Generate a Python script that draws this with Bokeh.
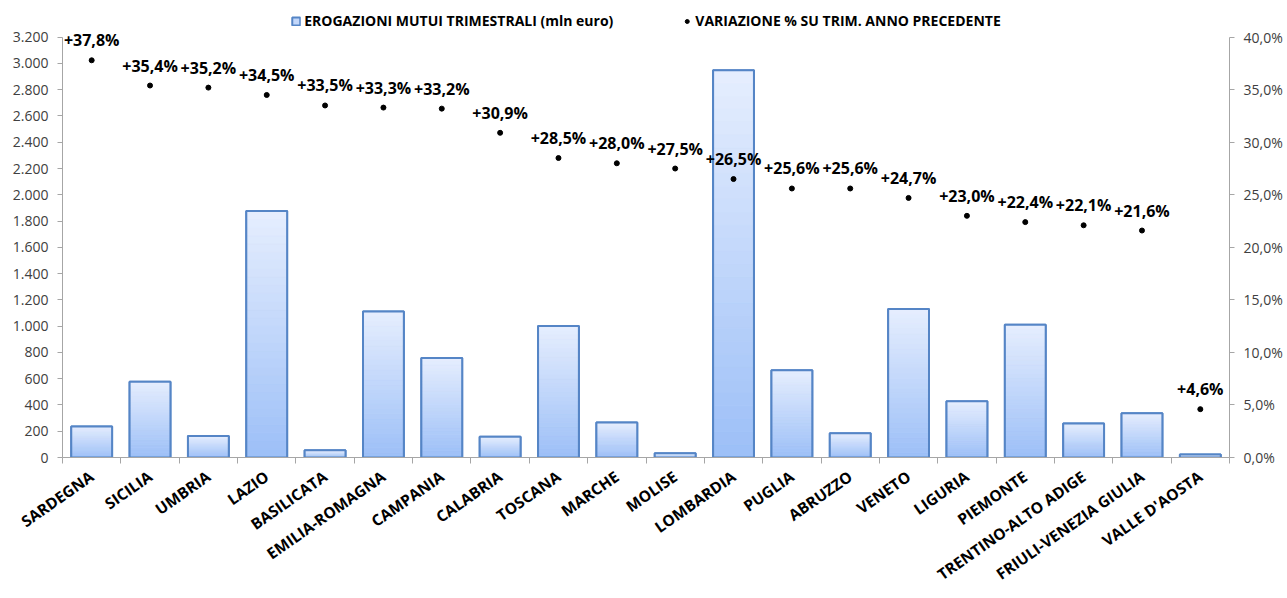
from math import radians
from bokeh.plotting import figure
from bokeh.models import Range1d, LinearAxis, FixedTicker, Legend, LegendItem, ColumnDataSource
from bokeh.core.properties import value
from bokeh.embed import file_html
from bokeh.resources import INLINE

regions = ["SARDEGNA", "SICILIA", "UMBRIA", "LAZIO", "BASILICATA", "EMILIA-ROMAGNA",
           "CAMPANIA", "CALABRIA", "TOSCANA", "MARCHE", "MOLISE", "LOMBARDIA", "PUGLIA",
           "ABRUZZO", "VENETO", "LIGURIA", "PIEMONTE", "TRENTINO-ALTO ADIGE",
           "FRIULI-VENEZIA GIULIA", "VALLE D'AOSTA"]
erogazioni = [236, 577, 163, 1877, 55, 1111, 758, 158, 1001, 266, 32, 2949, 664,
              185, 1131, 429, 1011, 258, 336, 23]
variazione = [37.8, 35.4, 35.2, 34.5, 33.5, 33.3, 33.2, 30.9, 28.5, 28.0, 27.5, 26.5,
              25.6, 25.6, 24.7, 23.0, 22.4, 22.1, 21.6, 4.6]
variazione_labels = ["+37,8%", "+35,4%", "+35,2%", "+34,5%", "+33,5%", "+33,3%", "+33,2%",
                     "+30,9%", "+28,5%", "+28,0%", "+27,5%", "+26,5%", "+25,6%", "+25,6%",
                     "+24,7%", "+23,0%", "+22,4%", "+22,1%", "+21,6%", "+4,6%"]
left_ticks = [0, 200, 400, 600, 800, 1000, 1200, 1400, 1600, 1800, 2000, 2200, 2400,
              2600, 2800, 3000, 3200]
left_tick_labels = ["0", "200", "400", "600", "800", "1.000", "1.200", "1.400", "1.600",
                    "1.800", "2.000", "2.200", "2.400", "2.600", "2.800", "3.000", "3.200"]
right_ticks = [0, 5, 10, 15, 20, 25, 30, 35, 40]
right_tick_labels = ["0,0%", "5,0%", "10,0%", "15,0%", "20,0%", "25,0%", "30,0%",
                     "35,0%", "40,0%"]
legend_labels = ["EROGAZIONI MUTUI TRIMESTRALI (mln euro)",
                 "VARIAZIONE % SU TRIM. ANNO PRECEDENTE"]

n = len(regions)
xc = [i + 0.5 for i in range(n)]

# frame spans from the top of the page; the axes are bounded to their own range
W, H = 1285, 596
B_LEFT, B_RIGHT, B_BOTTOM = 62, 56, 135
frame_h = H - B_BOTTOM
axis_top_px = 37
stretch = frame_h / (frame_h - axis_top_px)
left_max, right_max = 3200, 40

p = figure(width=W, height=H, x_range=Range1d(0, n),
           y_range=Range1d(0, left_max * stretch),
           output_backend="svg", toolbar_location=None,
           min_border_left=B_LEFT, min_border_right=B_RIGHT, min_border_top=0,
           min_border_bottom=B_BOTTOM)
p.extra_y_ranges = {"pct": Range1d(0, right_max * stretch)}
p.outline_line_color = None
p.xgrid.visible = False
p.ygrid.visible = False
p.background_fill_color = "white"
p.border_fill_color = "white"

src = ColumnDataSource(dict(x=xc, top=erogazioni, pct=variazione, lab=variazione_labels))

BW = 0.70
border = "#5585c6"
base = p.vbar(x="x", top="top", bottom=0, width=BW, source=src,
              fill_color="#c3d7fa", line_color=border, line_width=2)

# gradient bands (light top, darker bottom)
NB = 30
c_top = (0xE6, 0xEE, 0xFE)
c_bot = (0x9C, 0xBF, 0xF7)
for k in range(NB):
    t = (k + 0.5) / NB
    col = tuple(int(round(c_bot[j] + (c_top[j] - c_bot[j]) * t)) for j in range(3))
    hexc = "#%02x%02x%02x" % col
    p.vbar(x=xc, bottom=[v * k / NB for v in erogazioni],
           top=[v * (k + 1) / NB for v in erogazioni], width=BW - 0.02,
           fill_color=hexc, line_color=hexc, line_width=0.6)

p.vbar(x="x", top="top", bottom=0, width=BW, source=src,
       fill_color=None, line_color=border, line_width=2)

dots = p.scatter(x="x", y="pct", source=src, y_range_name="pct", size=5,
                 color="black", marker="circle")
p.text(x="x", y="pct", text="lab", source=src, y_range_name="pct",
       text_align="center", text_baseline="middle", y_offset=-20,
       text_font=value("Open Sans"), text_font_style="bold", text_font_size="16px",
       text_color="black")

axis_gray = "#a6a6a6"
xa = p.xaxis[0]
xa.ticker = FixedTicker(ticks=xc, minor_ticks=list(range(n + 1)))
xa.major_label_overrides = {x: r for x, r in zip(xc, regions)}
xa.major_label_orientation = radians(35)
xa.major_tick_out = 0
xa.major_tick_in = 0
xa.minor_tick_out = 6
xa.minor_tick_in = 0
xa.minor_tick_line_color = axis_gray
xa.axis_line_color = axis_gray
xa.major_label_text_font = "Open Sans"
xa.major_label_text_font_style = "bold"
xa.major_label_text_font_size = "15.5px"
xa.major_label_text_color = "black"
xa.major_label_standoff = 11

ya = p.yaxis[0]
ya.ticker = FixedTicker(ticks=left_ticks)
ya.bounds = (0, left_max)
ya.major_label_overrides = {t: l for t, l in zip(left_ticks, left_tick_labels)}
ya.major_tick_out = 5
ya.major_tick_in = 0
ya.minor_tick_out = 0
ya.minor_tick_in = 0
ya.axis_line_color = axis_gray
ya.major_tick_line_color = axis_gray
ya.major_label_text_font = "Open Sans"
ya.major_label_text_font_size = "14px"
ya.major_label_text_color = "#404040"
ya.major_label_standoff = 9

ra = LinearAxis(y_range_name="pct", ticker=FixedTicker(ticks=right_ticks),
                bounds=(0, right_max))
ra.major_label_overrides = {t: l for t, l in zip(right_ticks, right_tick_labels)}
ra.major_tick_out = 5
ra.major_tick_in = 0
ra.minor_tick_out = 0
ra.minor_tick_in = 0
ra.axis_line_color = axis_gray
ra.major_tick_line_color = axis_gray
ra.major_label_text_font = "Open Sans"
ra.major_label_text_font_size = "14px"
ra.major_label_text_color = "#404040"
ra.major_label_standoff = 9
p.add_layout(ra, "right")

legend = Legend(items=[LegendItem(label=legend_labels[0], renderers=[base]),
                       LegendItem(label=legend_labels[1], renderers=[dots])],
                location="top_center", orientation="horizontal",
                glyph_width=10, glyph_height=10, label_standoff=4, spacing=68,
                padding=0, margin=11, label_height=16,
                label_text_font="Open Sans", label_text_font_style="bold",
                label_text_font_size="14px", label_text_color="black",
                background_fill_alpha=0, border_line_color=None)
p.add_layout(legend, "center")

open("out.html", "w").write(file_html(p, INLINE))
